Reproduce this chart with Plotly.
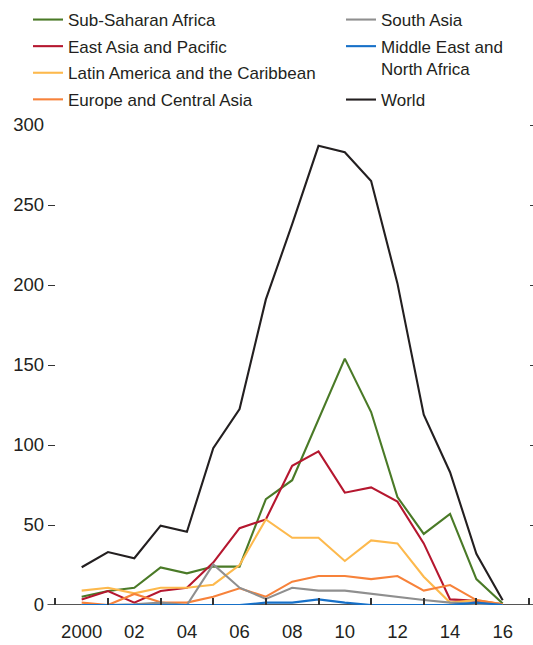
import plotly.graph_objects as go

years = list(range(2000, 2017))

world = [23.6, 33.1, 29.2, 49.6, 45.8, 98, 122.5, 191, 238, 287, 283, 265, 201, 119, 83, 32, 3]
ssa = [5.2, 8.7, 10.8, 23.5, 19.8, 24, 24, 66.2, 78, 116, 154, 120.6, 67.5, 44.4, 56.9, 16.2, 1]
eap = [3.5, 8.7, 1.5, 8.7, 10.8, 26.5, 48, 53.5, 87, 96, 70.2, 73.5, 64.6, 38.5, 3.5, 2.7, 0.4]
lac = [9, 10.8, 7.3, 10.8, 10.8, 12.7, 25, 53.5, 42, 42, 27.5, 40.4, 38.5, 17.7, 1.5, 3.1, 0.4]
eca = [1.5, 0, 6.9, 1.7, 1.5, 5.2, 10.4, 5.2, 14.6, 18.1, 18.1, 16.2, 18.1, 9, 12.5, 3.1, 0.4]
sas = [0, 0, 0.5, 1.5, 0, 25.4, 10.8, 3.8, 10.8, 9, 9, 6.9, 4.8, 3.1, 1.5, 0.6, 0]
mena = [0, 0, 0, 0, 0, 0, 0, 1.5, 1.5, 3.5, 1.5, 0, 0, 0, 0, 1.5, 0]

x_tick_vals = list(range(2000, 2017, 2))
x_tick_text = ["2000", "02", "04", "06", "08", "10", "12", "14", "16"]
x_minor_vals = list(range(1999, 2018, 2))
y_tick_vals = [0, 50, 100, 150, 200, 250, 300]

series = [
    ("Sub-Saharan Africa", ssa, "#4a7a27", "legend"),
    ("East Asia and Pacific", eap, "#b5172f", "legend"),
    ("Latin America and the Caribbean", lac, "#fdb94d", "legend"),
    ("Europe and Central Asia", eca, "#f7823a", "legend"),
    ("South Asia", sas, "#8f8f8f", "legend2"),
    ("Middle East and<br>North Africa", mena, "#1670c8", "legend2"),
    ("World", world, "#231f20", "legend3"),
]

FONT = "Liberation Sans, Arial, sans-serif"
TXT = "#231f20"
W, H = 533, 645

fig = go.Figure()
for i, (name, vals, col, leg) in enumerate(series):
    fig.add_trace(go.Scatter(
        x=years, y=vals, name=name, mode="lines",
        line=dict(color=col, width=2.1),
        legend=leg, legendgroup=f"g{i}", hoverinfo="x+y+name",
    ))

# invisible carrier trace so the right-hand tick axis is drawn
fig.add_trace(go.Scatter(x=years, y=world, yaxis="y2", mode="lines",
                         line=dict(width=0), opacity=0, showlegend=False,
                         hoverinfo="skip"))

legend_common = dict(font=dict(family=FONT, size=17, color=TXT), tracegroupgap=1.5,
                     valign="top", bgcolor="rgba(0,0,0,0)", xanchor="left", yanchor="top")

fig.update_layout(
    width=W, height=H,
    margin=dict(l=0, r=0, t=0, b=0, autoexpand=False),
    paper_bgcolor="white", plot_bgcolor="white",
    font=dict(family=FONT, size=17, color=TXT),
    showlegend=True,
    legend=dict(x=28 / W, y=1 - 2 / H, **legend_common),
    legend2=dict(x=341 / W, y=1 - 2 / H, **legend_common),
    legend3=dict(x=341 / W, y=1 - 82 / H, **legend_common),
    xaxis=dict(
        domain=[48 / W, 529 / W],
        range=[1998.72, 2017.0],
        tickmode="array", tickvals=x_tick_vals, ticktext=x_tick_text,
        ticks="", showgrid=False, zeroline=False, showline=False,
        automargin=False, ticklabelstandoff=13,
        minor=dict(tickmode="array", tickvals=x_minor_vals, ticks="inside",
                   ticklen=7, tickwidth=1.5, tickcolor="#333333", showgrid=False),
        tickfont=dict(family=FONT, size=18.5, color=TXT),
    ),
    yaxis=dict(
        domain=[40 / H, 520 / H],
        range=[0, 300], tickmode="array", tickvals=y_tick_vals,
        ticks="inside", ticklen=7, tickwidth=1.2, tickcolor="#333333",
        showgrid=False, zeroline=False, showline=False,
        automargin=False, ticklabelstandoff=3,
        tickfont=dict(family=FONT, size=18.5, color=TXT),
    ),
    yaxis2=dict(
        range=[0, 300], overlaying="y", side="right", tickmode="array",
        tickvals=y_tick_vals[1:], ticks="outside", ticklen=5, tickwidth=1.2,
        tickcolor="#333333", showticklabels=False, showgrid=False,
        zeroline=False, showline=False, automargin=False,
    ),
    shapes=[dict(type="line", xref="paper", yref="y", x0=47.5 / W, x1=1.0, y0=0, y1=0,
                 line=dict(color="#555555", width=2), layer="below")],
)

fig.write_html("out.html", config={"displayModeBar": False},
               post_script="document.body.style.margin='0';document.body.style.overflow='hidden';")
